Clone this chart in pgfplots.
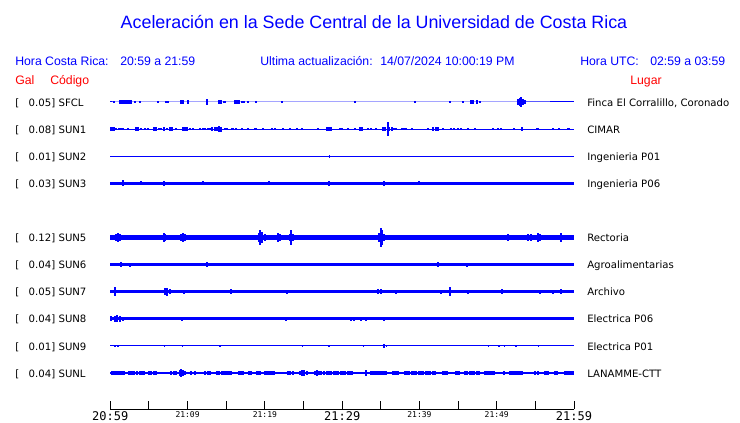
\documentclass[border=0pt]{standalone}
\usepackage{pgfplots}
\pgfplotsset{compat=1.18}
\usepackage{fontspec}
\setmainfont{Liberation Sans}
\newfontfamily\dejavu{DejaVu Sans}
\newfontfamily\dejamono{DejaVu Sans Mono}

\newcommand\bt[1]{{\dejamono\fontsize{9}{10}\selectfont #1}}
\newcommand\st[1]{{\dejamono\fontsize{6}{7}\selectfont #1}}
% one station row: pixel y, Gal, code, place
\newcommand\row[4]{%
  \node[anchor=base west] at (15,#1+3.7) {[};
  \node[anchor=base east] at (55.5,#1+3.7) {#2]};
  \node[anchor=base west] at (58.3,#1+3.7) {#3};
  \node[anchor=base west] at (587,#1+3.7) {#4};}

\pgfplotsset{tr/.style={color=blue, mark=none, line cap=butt,
  error bars/y dir=both, error bars/y explicit, error bars/error mark=none}}

\begin{document}
\begin{tikzpicture}
\useasboundingbox (0,0) rectangle (555pt,-317.25pt);

\begin{axis}[
  at={(82.725pt,-306.975pt)}, anchor=south west,
  scale only axis, width=347.8pt, height=250.8pt,
  xmin=0, xmax=60, ymin=-0.34, ymax=12,
  clip=false,
  axis x line*=bottom, axis y line=none,
  axis line style={black, line width=1pt},
  xtick={0,5,...,60}, minor xtick={},
  xtick align=inside, major tick length=6.5pt,
  tick style={black, line width=0.75pt},
  xticklabels={\bt{20:59},{},\st{21:09},{},\st{21:19},{},\bt{21:29},{},\st{21:39},{},\st{21:49},{},\bt{21:59}},
  xticklabel style={anchor=north, inner sep=0pt, yshift=-1.8pt, text=black},
  ]

% SFCL
\addplot[tr, line width=0.75pt, error bars/error bar style={blue, line width=1.5pt}] coordinates {
(0,11) (0.5,11)+-(0,0.05) (1.2,11)+-(0,0.06) (1.45,11)+-(0,0.06) (1.7,11)+-(0,0.06)
(1.95,11)+-(0,0.06) (2.2,11)+-(0,0.06) (2.45,11)+-(0,0.06) (2.7,11)+-(0,0.06)
(3.2,11)+-(0,0.04) (3.8,11)+-(0,0.04) (6.2,11)+-(0,0.04) (7.2,11)+-(0,0.05) (7.5,11)+-(0,0.03)
(9.1,11)+-(0,0.09) (9.35,11)+-(0,0.09) (10.0,11)+-(0,0.06) (12.5,11)+-(0,0.1)
(14.0,11)+-(0,0.07) (14.3,11)+-(0,0.07) (14.7,11)+-(0,0.05) (14.9,11)+-(0,0.03)
(16.1,11)+-(0,0.06) (16.4,11)+-(0,0.06) (16.7,11)+-(0,0.06) (17.0,11)+-(0,0.05)
(17.3,11)+-(0,0.05) (17.8,11)+-(0,0.04) (18.9,11)+-(0,0.03) (22.2,11)+-(0,0.03)
(31.6,11)+-(0,0.05) (39.4,11)+-(0,0.05) (43.9,11)+-(0,0.05) (45.6,11)+-(0,0.05)
(46.7,11)+-(0,0.06) (46.9,11)+-(0,0.06) (47.5,11)+-(0,0.07) (47.8,11)+-(0,0.05)
(52.8,11)+-(0,0.12) (53.0,11)+-(0,0.15) (53.2,11)+-(0,0.18) (53.4,11)+-(0,0.12)
(53.6,11)+-(0,0.06) (60,11)
};
% SUN1
\addplot[tr, line width=0.75pt, error bars/error bar style={blue, line width=1.5pt}] coordinates {
(0,10) (0.1,10)+-(0,0.06) (0.3,10)+-(0,0.07) (0.5,10)+-(0,0.06) (0.8,10)+-(0,0.05)
(1.1,10)+-(0,0.05) (1.4,10)+-(0,0.05) (1.7,10)+-(0,0.04) (2.3,10)+-(0,0.04)
(3.3,10)+-(0,0.06) (3.6,10)+-(0,0.06) (4.0,10)+-(0,0.04) (4.5,10)+-(0,0.03) (4.9,10)+-(0,0.04)
(5.6,10)+-(0,0.06) (5.9,10)+-(0,0.06) (6.3,10)+-(0,0.05) (6.6,10)+-(0,0.05) (6.9,10)+-(0,0.06)
(7.3,10)+-(0,0.04) (7.7,10)+-(0,0.06) (8.0,10)+-(0,0.06) (8.5,10)+-(0,0.04)
(9.4,10)+-(0,0.06) (9.65,10)+-(0,0.06) (9.9,10)+-(0,0.06) (10.3,10)+-(0,0.05) (10.7,10)+-(0,0.04)
(11.6,10)+-(0,0.04) (12.0,10)+-(0,0.04) (12.3,10)+-(0,0.05) (12.6,10)+-(0,0.05) (12.9,10)+-(0,0.05)
(13.2,10)+-(0,0.08) (13.5,10)+-(0,0.07) (13.8,10)+-(0,0.08) (14.1,10)+-(0,0.11) (14.3,10)+-(0,0.09)
(14.8,10)+-(0,0.05) (15.1,10)+-(0,0.05) (15.7,10)+-(0,0.05) (15.9,10)+-(0,0.05) (16.3,10)+-(0,0.04)
(17.0,10)+-(0,0.05) (17.8,10)+-(0,0.04) (18.7,10)+-(0,0.04) (18.9,10)+-(0,0.04) (19.8,10)+-(0,0.03)
(20.9,10)+-(0,0.04) (21.3,10)+-(0,0.04) (22.4,10)+-(0,0.04) (23.2,10)+-(0,0.04) (24.1,10)+-(0,0.04)
(24.8,10)+-(0,0.04) (26.9,10)+-(0,0.03) (28.0,10)+-(0,0.06) (28.3,10)+-(0,0.06) (28.6,10)+-(0,0.06)
(29.7,10)+-(0,0.04) (30.0,10)+-(0,0.04) (30.7,10)+-(0,0.04) (31.6,10)+-(0,0.05)
(32.3,10)+-(0,0.06) (32.6,10)+-(0,0.06) (33.4,10)+-(0,0.05) (33.7,10)+-(0,0.05) (34.4,10)+-(0,0.04)
(35.3,10)+-(0,0.06) (35.6,10)+-(0,0.07) (35.9,10)+-(0,0.25) (36.1,10)+-(0,0.07) (36.4,10)+-(0,0.06)
(36.7,10)+-(0,0.05) (37.0,10)+-(0,0.05) (37.7,10)+-(0,0.05) (38.0,10)+-(0,0.05) (38.3,10)+-(0,0.05)
(39.0,10)+-(0,0.04) (41.1,10)+-(0,0.05) (41.8,10)+-(0,0.06) (42.1,10)+-(0,0.06) (42.4,10)+-(0,0.06)
(43.1,10)+-(0,0.05) (44.1,10)+-(0,0.05) (44.5,10)+-(0,0.05) (45.0,10)+-(0,0.05) (45.4,10)+-(0,0.05)
(46.3,10)+-(0,0.04) (47.2,10)+-(0,0.04) (49.5,10)+-(0,0.04) (50.2,10)+-(0,0.05) (50.5,10)+-(0,0.05)
(52.2,10)+-(0,0.05) (53.3,10)+-(0,0.07) (55.2,10)+-(0,0.05) (55.4,10)+-(0,0.05) (57.3,10)+-(0,0.03)
(58.1,10)+-(0,0.04) (59.2,10)+-(0,0.05) (59.4,10)+-(0,0.05) (60,10)
};
% SUN2
\addplot[tr, line width=0.9pt, error bars/error bar style={blue, line width=0.75pt}] coordinates {
(0,9) (28.3,9)+-(0,0.05) (60,9)
};
% SUN3
\addplot[tr, line width=2.4pt, error bars/error bar style={blue, line width=1.5pt}] coordinates {
(0,8) (1.6,8)+-(0,0.11) (4.0,8)+-(0,0.07) (7.0,8)+-(0,0.1) (12.0,8)+-(0,0.07)
(20.5,8)+-(0,0.07) (28.3,8)+-(0,0.1) (35.4,8)+-(0,0.1) (40.0,8)+-(0,0.07) (60,8)
};
% SUN5
\addplot[tr, line width=3.4pt, error bars/error bar style={blue, line width=1.5pt}] coordinates {
(0,6) (0.3,6)+-(0,0.1) (0.8,6)+-(0,0.14) (1.0,6)+-(0,0.17) (1.2,6)+-(0,0.14) (1.5,6)+-(0,0.11)
(2.0,6)+-(0,0.1) (2.6,6)+-(0,0.1) (3.2,6)+-(0,0.1) (3.8,6)+-(0,0.1) (4.5,6)+-(0,0.11)
(5.2,6)+-(0,0.1) (5.8,6)+-(0,0.1) (6.4,6)+-(0,0.11) (6.9,6)+-(0,0.16) (7.1,6)+-(0,0.12)
(7.6,6)+-(0,0.1) (8.3,6)+-(0,0.1) (9.1,6)+-(0,0.13) (9.4,6)+-(0,0.15) (9.7,6)+-(0,0.12)
(10.5,6)+-(0,0.1) (11.5,6)+-(0,0.1) (12.0,6)+-(0,0.11) (13.0,6)+-(0,0.1) (14.0,6)+-(0,0.1)
(15.3,6)+-(0,0.1) (16.6,6)+-(0,0.1) (17.5,6)+-(0,0.1) (18.5,6)+-(0,0.1) (19.2,6)+-(0,0.15)
(19.4,6)+-(0,0.27) (19.6,6)+-(0,0.2) (20.0,6)+-(0,0.12) (20.5,6)+-(0,0.11) (21.0,6)+-(0,0.11)
(21.7,6)+-(0,0.15) (21.9,6)+-(0,0.12) (22.5,6)+-(0,0.1) (23.2,6)+-(0,0.14) (23.4,6)+-(0,0.26)
(23.6,6)+-(0,0.14) (24.4,6)+-(0,0.11) (25.2,6)+-(0,0.1) (26.5,6)+-(0,0.1) (28.0,6)+-(0,0.1)
(29.3,6)+-(0,0.1) (30.5,6)+-(0,0.1) (31.3,6)+-(0,0.11) (32.2,6)+-(0,0.1) (33.4,6)+-(0,0.11)
(34.3,6)+-(0,0.1) (34.8,6)+-(0,0.18) (35.0,6)+-(0,0.34) (35.2,6)+-(0,0.26) (35.4,6)+-(0,0.14)
(36.5,6)+-(0,0.09) (37.5,6)+-(0,0.09) (38.5,6)+-(0,0.11) (40.0,6)+-(0,0.09) (41.5,6)+-(0,0.09)
(43.0,6)+-(0,0.09) (44.5,6)+-(0,0.09) (45.9,6)+-(0,0.1) (47.0,6)+-(0,0.09) (48.0,6)+-(0,0.1)
(49.5,6)+-(0,0.09) (51.5,6)+-(0,0.12) (51.9,6)+-(0,0.11) (53.0,6)+-(0,0.1) (54.1,6)+-(0,0.13)
(54.4,6)+-(0,0.14) (55.3,6)+-(0,0.15) (55.6,6)+-(0,0.12) (56.5,6)+-(0,0.11) (57.3,6)+-(0,0.1)
(58.3,6)+-(0,0.18) (59.0,6)+-(0,0.1) (60,6)
};
% SUN6
\addplot[tr, line width=1.9pt, error bars/error bar style={blue, line width=1.5pt}] coordinates {
(0,5) (0.2,5)+-(0,0.065) (0.5,5)+-(0,0.065) (0.8,5)+-(0,0.065) (1.1,5)+-(0,0.065) (1.4,5)+-(0,0.09)
(2.5,5)+-(0,0.075) (3.6,5)+-(0,0.06) (5.3,5)+-(0,0.06) (7.5,5)+-(0,0.065) (8.7,5)+-(0,0.06)
(10.2,5)+-(0,0.065) (12.5,5)+-(0,0.085) (13.5,5)+-(0,0.06) (15.9,5)+-(0,0.065) (16.3,5)+-(0,0.065)
(16.6,5)+-(0,0.06) (21.7,5)+-(0,0.06) (22.8,5)+-(0,0.06) (29.0,5)+-(0,0.06) (36.5,5)+-(0,0.06)
(41.8,5)+-(0,0.065) (42.4,5)+-(0,0.085) (42.8,5)+-(0,0.065) (46.1,5)+-(0,0.075) (46.9,5)+-(0,0.06)
(53.6,5)+-(0,0.06) (60,5)
};
% SUN7
\addplot[tr, line width=1.9pt, error bars/error bar style={blue, line width=1.5pt}] coordinates {
(0,4) (0.6,4)+-(0,0.16) (1.4,4)+-(0,0.06) (2.5,4)+-(0,0.065) (4.1,4)+-(0,0.065) (5.3,4)+-(0,0.065)
(6.0,4)+-(0,0.06) (7.1,4)+-(0,0.12) (7.4,4)+-(0,0.15) (7.7,4)+-(0,0.1) (9.6,4)+-(0,0.075)
(12.9,4)+-(0,0.06) (14.5,4)+-(0,0.065) (15.6,4)+-(0,0.1) (22.8,4)+-(0,0.075) (25.4,4)+-(0,0.065)
(26.9,4)+-(0,0.065) (28.6,4)+-(0,0.065) (29.5,4)+-(0,0.065) (30.4,4)+-(0,0.065) (34.7,4)+-(0,0.09)
(35.0,4)+-(0,0.09) (37.0,4)+-(0,0.075) (42.8,4)+-(0,0.075) (43.9,4)+-(0,0.16) (46.3,4)+-(0,0.08)
(50.7,4)+-(0,0.09) (53.2,4)+-(0,0.065) (55.6,4)+-(0,0.075) (57.3,4)+-(0,0.075) (58.3,4)+-(0,0.1) (60,4)
};
% SUN8
\addplot[tr, line width=2.25pt, error bars/error bar style={blue, line width=1.5pt}] coordinates {
(0,3) (0.1,3)+-(0,0.09) (0.6,3)+-(0,0.11) (0.9,3)+-(0,0.13) (1.2,3)+-(0,0.11) (1.7,3)+-(0,0.07)
(9.3,3)+-(0,0.065) (22.7,3)+-(0,0.07) (31.2,3)+-(0,0.08) (31.5,3)+-(0,0.08) (32.5,3)+-(0,0.065)
(33.1,3)+-(0,0.065) (35.4,3)+-(0,0.075) (60,3)
};
% SUN9
\addplot[tr, line width=0.9pt, error bars/error bar style={blue, line width=1pt}] coordinates {
(0,2) (0.6,2)+-(0,0.05) (1.0,2)+-(0,0.04) (7.0,2)+-(0,0.04) (9.3,2)+-(0,0.05) (14.2,2)+-(0,0.04)
(24.9,2)+-(0,0.04) (28.3,2)+-(0,0.04) (32.8,2)+-(0,0.04) (35.4,2)+-(0,0.06) (35.7,2)+-(0,0.05)
(48.9,2)+-(0,0.04) (50.3,2)+-(0,0.04) (51.0,2)+-(0,0.04) (52.5,2)+-(0,0.04) (55.4,2)+-(0,0.05) (60,2)
};
% SUNL
\addplot[tr, line width=1.3pt, error bars/error bar style={blue, line width=1.6pt}] coordinates {
(0,1) (0.2,1)+-(0,0.065) (0.5,1)+-(0,0.075) (0.8,1)+-(0,0.065) (1.1,1)+-(0,0.065) (1.4,1)+-(0,0.065)
(1.7,1)+-(0,0.065) (2.4,1)+-(0,0.065) (2.7,1)+-(0,0.065) (3.0,1)+-(0,0.065) (3.5,1)+-(0,0.065)
(3.8,1)+-(0,0.065) (4.1,1)+-(0,0.065) (4.4,1)+-(0,0.065) (5.0,1)+-(0,0.065) (5.3,1)+-(0,0.065)
(5.6,1)+-(0,0.065) (5.9,1)+-(0,0.065) (7.3,1)+-(0,0.05) (7.9,1)+-(0,0.08) (8.2,1)+-(0,0.09)
(8.5,1)+-(0,0.08) (9.0,1)+-(0,0.11) (9.2,1)+-(0,0.13) (9.4,1)+-(0,0.11) (9.7,1)+-(0,0.08)
(10.4,1)+-(0,0.065) (11.0,1)+-(0,0.065) (12.3,1)+-(0,0.065) (12.6,1)+-(0,0.065) (12.9,1)+-(0,0.065)
(13.8,1)+-(0,0.065) (14.1,1)+-(0,0.065) (14.4,1)+-(0,0.065) (14.7,1)+-(0,0.065) (15.0,1)+-(0,0.065)
(15.3,1)+-(0,0.065) (15.6,1)+-(0,0.065) (16.6,1)+-(0,0.065) (16.9,1)+-(0,0.065) (17.2,1)+-(0,0.065)
(17.9,1)+-(0,0.065) (18.2,1)+-(0,0.065) (19.0,1)+-(0,0.065) (19.3,1)+-(0,0.065) (20.0,1)+-(0,0.065)
(20.3,1)+-(0,0.065) (20.6,1)+-(0,0.065) (20.9,1)+-(0,0.065) (21.2,1)+-(0,0.065) (23.0,1)+-(0,0.075)
(23.3,1)+-(0,0.075) (23.6,1)+-(0,0.075) (24.5,1)+-(0,0.08) (24.8,1)+-(0,0.1) (25.1,1)+-(0,0.1)
(25.4,1)+-(0,0.09) (26.5,1)+-(0,0.075) (26.7,1)+-(0,0.12) (27.0,1)+-(0,0.08) (27.3,1)+-(0,0.075)
(27.6,1)+-(0,0.075) (28.0,1)+-(0,0.065) (28.3,1)+-(0,0.065) (28.6,1)+-(0,0.065) (28.9,1)+-(0,0.065)
(29.2,1)+-(0,0.065) (29.5,1)+-(0,0.065) (29.8,1)+-(0,0.065) (30.1,1)+-(0,0.065) (30.4,1)+-(0,0.065)
(30.7,1)+-(0,0.065) (31.0,1)+-(0,0.065) (31.3,1)+-(0,0.065) (33.1,1)+-(0,0.12) (33.8,1)+-(0,0.075)
(34.1,1)+-(0,0.075) (34.4,1)+-(0,0.075) (34.7,1)+-(0,0.075) (35.0,1)+-(0,0.075) (35.3,1)+-(0,0.075)
(35.6,1)+-(0,0.08) (36.6,1)+-(0,0.065) (36.9,1)+-(0,0.065) (37.2,1)+-(0,0.065) (38.1,1)+-(0,0.065)
(38.4,1)+-(0,0.065) (38.7,1)+-(0,0.065) (39.0,1)+-(0,0.065) (39.3,1)+-(0,0.065) (39.6,1)+-(0,0.065)
(39.9,1)+-(0,0.065) (40.2,1)+-(0,0.065) (40.5,1)+-(0,0.065) (40.8,1)+-(0,0.065) (41.1,1)+-(0,0.065)
(41.4,1)+-(0,0.065) (41.7,1)+-(0,0.065) (42.0,1)+-(0,0.065) (43.0,1)+-(0,0.075) (43.3,1)+-(0,0.075)
(43.6,1)+-(0,0.075) (44.8,1)+-(0,0.065) (45.1,1)+-(0,0.065) (45.9,1)+-(0,0.065) (46.2,1)+-(0,0.065)
(46.5,1)+-(0,0.065) (46.8,1)+-(0,0.065) (47.1,1)+-(0,0.065) (47.4,1)+-(0,0.065) (47.7,1)+-(0,0.065)
(48.5,1)+-(0,0.065) (48.8,1)+-(0,0.065) (49.1,1)+-(0,0.065) (49.4,1)+-(0,0.065) (49.7,1)+-(0,0.065)
(50.9,1)+-(0,0.065) (51.7,1)+-(0,0.065) (52.0,1)+-(0,0.065) (52.3,1)+-(0,0.065) (52.6,1)+-(0,0.065)
(52.9,1)+-(0,0.065) (53.2,1)+-(0,0.065) (55.0,1)+-(0,0.065) (55.3,1)+-(0,0.065) (56.3,1)+-(0,0.09)
(56.6,1)+-(0,0.09) (57.5,1)+-(0,0.065) (57.8,1)+-(0,0.065) (58.9,1)+-(0,0.065) (59.2,1)+-(0,0.065)
(59.5,1)+-(0,0.065) (59.8,1)+-(0,0.065) (60,1)
};
\end{axis}

\begin{scope}[x=0.75pt, y=-0.75pt, every node/.style={inner sep=0pt}]
  \node[anchor=base, blue, font=\fontsize{13.4}{16}\selectfont] at (374,28.5)
    {Aceleración en la Sede Central de la Universidad de Costa Rica};
  \begin{scope}[every node/.append style={blue, font=\fontsize{9.2}{11}\selectfont}]
    \node[anchor=base west] at (15,65.2) {Hora Costa Rica:};
    \node[anchor=base west] at (120,65.2) {20:59 a 21:59};
    \node[anchor=base west] at (260,65.2) {Ultima actualización:};
    \node[anchor=base west] at (380,65.2) {14/07/2024 10:00:19 PM};
    \node[anchor=base west] at (580,65.2) {Hora UTC:};
    \node[anchor=base west] at (650,65.2) {02:59 a 03:59};
  \end{scope}
  \begin{scope}[every node/.append style={red, font=\fontsize{9.2}{11}\selectfont}]
    \node[anchor=base west] at (15,85) {Gal};
    \node[anchor=base west] at (50,85) {Código};
    \node[anchor=base] at (646,85) {Lugar};
  \end{scope}
  \begin{scope}[every node/.append style={black, font=\dejavu\fontsize{7.6}{9}\selectfont}]
    \row{102.5}{0.05}{SFCL}{Finca El Corralillo, Coronado}
    \row{129.6}{0.08}{SUN1}{CIMAR}
    \row{156.7}{0.01}{SUN2}{Ingenieria P01}
    \row{183.8}{0.03}{SUN3}{Ingenieria P06}
    \row{238}{0.12}{SUN5}{Rectoria}
    \row{265.1}{0.04}{SUN6}{Agroalimentarias}
    \row{292.2}{0.05}{SUN7}{Archivo}
    \row{319.3}{0.04}{SUN8}{Electrica P06}
    \row{346.4}{0.01}{SUN9}{Electrica P01}
    \row{373.5}{0.04}{SUNL}{LANAMME-CTT}
  \end{scope}
\end{scope}
\end{tikzpicture}
\end{document}
